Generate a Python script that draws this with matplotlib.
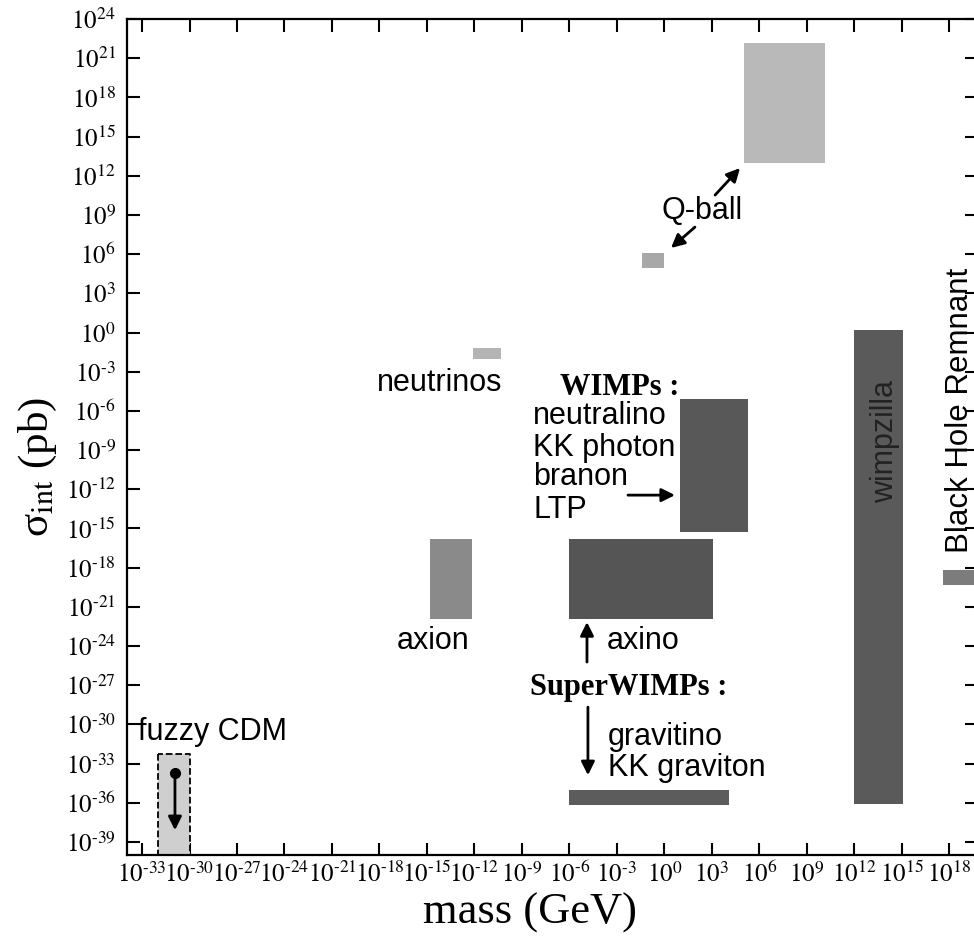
import matplotlib
matplotlib.use('Agg')
import matplotlib.pyplot as plt

plt.rcParams['mathtext.fontset'] = 'stix'
plt.rcParams['font.family'] = ['Liberation Serif', 'DejaVu Serif']

# ===================== 数据：各暗物质候选者的区域（log10 质量 GeV, log10 截面 pb） =====================
box_names = ['Q-ball big', 'Q-ball small', 'neutrinos', 'WIMPs', 'axion', 'axino',
             'gravitino', 'wimpzilla', 'Black Hole Remnant', 'fuzzy CDM']
box_mass_lo = [5.0, -1.4, -12.1, 1.0, -14.8, -6.0, -6.0, 12.0, 17.6, -32.0]
box_mass_hi = [10.15, 0.0, -10.3, 5.3, -12.15, 3.1, 4.1, 15.05, 21.0, -30.0]
box_sig_lo = [13.0, 4.9, -2.0, -15.3, -21.9, -21.9, -36.2, -36.1, -19.3, -41.0]
box_sig_hi = [22.2, 6.1, -1.2, -5.1, -15.8, -15.8, -35.0, 0.2, -18.2, -32.3]

x_tick_exp = [-33, -30, -27, -24, -21, -18, -15, -12, -9, -6, -3, 0, 3, 6, 9, 12, 15, 18]
y_tick_exp = [-39, -36, -33, -30, -27, -24, -21, -18, -15, -12, -9, -6, -3, 0,
              3, 6, 9, 12, 15, 18, 21, 24]

# 每个区域的填充色
box_colors = ['#b9b9b9', '#a8a8a8', '#b4b4b4', '#585858', '#8a8a8a', '#555555',
              '#5c5c5c', '#5a5a5a', '#7c7c7c', '#cfcfcf']

fig = plt.figure(figsize=(9.74, 9.39), dpi=100)
ax = fig.add_axes([127 / 974, 84 / 939, 850 / 974, 836 / 939])
ax.set_xscale('log')
ax.set_yscale('log')
ax.set_xlim(10 ** -33.95, 10 ** 19.75)
ax.set_ylim(1e-40, 1e24)

for name, x0, x1, y0, y1, c in zip(box_names, box_mass_lo, box_mass_hi,
                                    box_sig_lo, box_sig_hi, box_colors):
    if name == 'fuzzy CDM':
        ax.fill_between([10 ** x0, 10 ** x1], 10 ** y0, 10 ** y1, facecolor=c,
                        edgecolor='black', linestyle='--', linewidth=1.3, zorder=2)
    else:
        ax.fill_between([10 ** x0, 10 ** x1], 10 ** y0, 10 ** y1, facecolor=c,
                        edgecolor='none', zorder=2)


def exp_label(e):
    # 指数用短横线（与原图一致）
    return r'$10^{\text{%d}}$' % e


ax.set_xticks([10.0 ** e for e in x_tick_exp])
ax.set_xticklabels([exp_label(e) for e in x_tick_exp])
ax.set_yticks([10.0 ** e for e in y_tick_exp])
ax.set_yticklabels([exp_label(e) for e in y_tick_exp])
ax.minorticks_off()
ax.tick_params(axis='both', which='major', direction='in', length=9, width=1.5,
               top=True, right=True, labelsize=18, pad=5)
ax.tick_params(axis='y', pad=8)
for sp in ax.spines.values():
    sp.set_linewidth(1.6)

sans = ['Liberation Sans', 'DejaVu Sans']
fs = 22

# 文字标注
ax.text(10 ** 2.38, 10 ** 9.3, 'Q-ball', family=sans, fontsize=fs, ha='center', va='center')
ax.text(10 ** -14.17, 10 ** -3.87, 'neutrinos', family=sans, fontsize=fs, ha='center', va='center')
ax.text(10 ** -2.8, 10 ** -4.18, 'WIMPs :', fontsize=fs, weight='bold', ha='center', va='center')
for lab, yy in zip(['neutralino', 'KK photon', 'branon', 'LTP'], [-6.4, -8.85, -11.07, -13.6]):
    ax.text(10 ** -8.3, 10 ** yy, lab, family=sans, fontsize=fs, ha='left', va='center')
ax.text(10 ** -14.62, 10 ** -23.63, 'axion', family=sans, fontsize=fs, ha='center', va='center')
ax.text(10 ** -3.63, 10 ** -23.63, 'axino', family=sans, fontsize=fs, ha='left', va='center')
ax.text(10 ** -2.24, 10 ** -27.15, 'SuperWIMPs :', fontsize=fs, weight='bold', ha='center', va='center')
ax.text(10 ** -3.56, 10 ** -30.98, 'gravitino', family=sans, fontsize=fs, ha='left', va='center')
ax.text(10 ** -3.56, 10 ** -33.35, 'KK graviton', family=sans, fontsize=fs, ha='left', va='center')
ax.text(10 ** -33.25, 10 ** -30.6, 'fuzzy CDM', family=sans, fontsize=fs, ha='left', va='center')
ax.text(10 ** 13.94, 10 ** -8.31, 'wimpzilla', family=sans, fontsize=fs, ha='center', va='center',
        rotation=90, color='#222222')
ax.text(10 ** 18.67, 10 ** -5.94, 'Black Hole Remnant', family=sans, fontsize=22.5, ha='center',
        va='center', rotation=90)

# 箭头
arrow_kw = dict(arrowstyle='-|>', color='black', lw=2.0, mutation_scale=20, shrinkA=0, shrinkB=0)
arrows = [((3.2, 10.52), (4.78, 12.59)), ((1.93, 8.07), (0.42, 6.47)),
          ((-2.3, -12.45), (0.67, -12.45)), ((-4.89, -25.23), (-4.89, -22.17)),
          ((-4.83, -28.68), (-4.83, -33.89)), ((-30.92, -33.7), (-30.92, -38.1))]
for (sx, sy), (ex, ey) in arrows:
    ax.annotate('', xy=(10 ** ex, 10 ** ey), xytext=(10 ** sx, 10 ** sy), arrowprops=arrow_kw)
ax.plot([10 ** -30.92], [10 ** -33.7], 'o', color='black', markersize=7, zorder=5)

fig.text(530 / 974, 1 - 913 / 939, 'mass (GeV)', fontsize=32, ha='center', va='center')
fig.text(38 / 974, 1 - 467 / 939, 'σ$_{\\mathrm{int}}$ (pb)', fontsize=31, ha='center',
         va='center', rotation=90)

fig.savefig('out.png', dpi=100)
